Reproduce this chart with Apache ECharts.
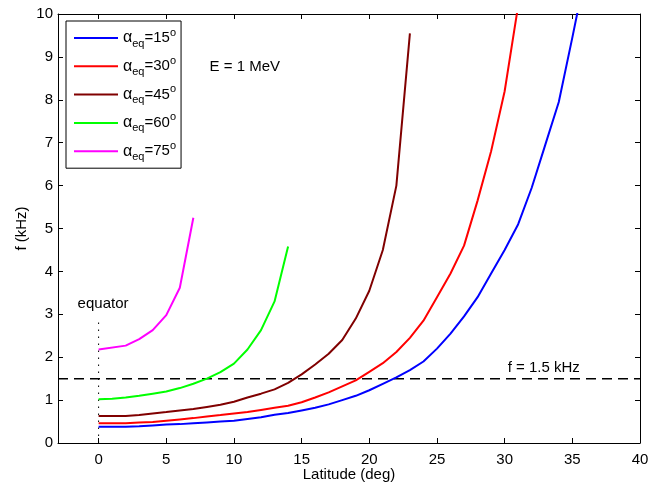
<!DOCTYPE html>
<html><head><meta charset="utf-8">
<script src="https://cdn.jsdelivr.net/npm/echarts@6/dist/echarts.min.js"></script>
<style>html,body{margin:0;padding:0;background:#fff}#c{width:663px;height:485px}</style>
</head><body><div id="c"></div>
<script>
const angles = ['15','30','45','60','75'];
const colors = ['#0000ff','#ff0000','#800000','#00ff00','#ff00ff'];
const lat15 = [0,1,2,3,4,5,6,7,8,9,10,11,12,13,14,15,16,17,18,19,20,21,22,23,24,25,26,27,28,29,30,31,32,33,34,35,36];
const f15 = [0.38,0.38,0.38,0.39,0.41,0.43,0.44,0.46,0.48,0.50,0.52,0.56,0.60,0.66,0.70,0.76,0.82,0.90,1.00,1.10,1.23,1.38,1.53,1.70,1.90,2.20,2.55,2.95,3.40,3.95,4.50,5.10,5.95,6.95,7.95,9.45,11.0];
const lat30 = [0,1,2,3,4,5,6,7,8,9,10,11,12,13,14,15,16,17,18,19,20,21,22,23,24,25,26,27,28,29,30,31];
const f30 = [0.46,0.46,0.46,0.48,0.49,0.52,0.55,0.58,0.62,0.65,0.69,0.72,0.77,0.82,0.87,0.95,1.06,1.18,1.32,1.46,1.66,1.86,2.12,2.45,2.85,3.40,3.95,4.60,5.65,6.80,8.20,10.2];
const lat45 = [0,1,2,3,4,5,6,7,8,9,10,11,12,13,14,15,16,17,18,19,20,21,22,23];
const f45 = [0.63,0.63,0.63,0.65,0.69,0.72,0.76,0.79,0.84,0.89,0.96,1.06,1.15,1.25,1.40,1.60,1.83,2.08,2.40,2.90,3.55,4.50,6.00,9.55];
const lat60 = [0,1,2,3,4,5,6,7,8,9,10,11,12,13,14];
const f60 = [1.02,1.03,1.06,1.10,1.15,1.20,1.28,1.38,1.50,1.65,1.85,2.18,2.63,3.30,4.58];
const lat75 = [0,2,3,4,5,6,7];
const f75 = [2.18,2.27,2.42,2.63,2.98,3.62,5.25];
const xTicks = [0,5,10,15,20,25,30,35,40];
const yTicks = [0,1,2,3,4,5,6,7,8,9,10];
const xRange = [-3,40];
const yRange = [0,10];
const fLine = 1.5;
const equatorTop = 2.9;

const lats = [lat15,lat30,lat45,lat60,lat75];
const fs = [f15,f30,f45,f60,f75];
const font = 'Liberation Sans, Arial, Helvetica, sans-serif';
const FS = 15;

const chart = echarts.init(document.getElementById('c'));
const series = angles.map((a,i)=>({
  name: a, type:'line', xAxisIndex:0, yAxisIndex:0,
  data: lats[i].map((x,j)=>[x, fs[i][j]]),
  symbol:'none', clip:true, smooth:false,
  lineStyle:{color:colors[i], width:2}, itemStyle:{color:colors[i]}, z:3
}));
series.push({
  name:'fline', type:'line', data:[[xRange[0],fLine],[xRange[1],fLine]], symbol:'none',
  lineStyle:{color:'#000', width:1.5, type:[10,6]}, z:2, silent:true
});
series.push({
  name:'equator', type:'line', data:[[0,yRange[0]],[0,equatorTop]], symbol:'none',
  lineStyle:{color:'#000', width:1, type:[1.5,5.5]}, z:2, silent:true
});

const lineCommon = {show:true, onZero:false, lineStyle:{color:'#000', width:1}};
const option = {
  animation:false,
  backgroundColor:'#fff',
  grid:{left:58, right:23, top:14, bottom:42, show:false, containLabel:false, outerBoundsMode:'none'},
  textStyle:{fontFamily:font},
  xAxis:[
    {type:'value', min:xRange[0], max:xRange[1], position:'bottom', axisLine:lineCommon, splitLine:{show:false},
      name:'Latitude (deg)', nameLocation:'middle', nameGap:24, nameMoveOverlap:false,
      nameTextStyle:{fontFamily:font, fontSize:FS, color:'#000'},
      axisTick:{inside:true, length:5, customValues:xTicks, lineStyle:{color:'#000'}},
      axisLabel:{customValues:xTicks, fontFamily:font, fontSize:FS, color:'#000', margin:9}},
    {type:'value', min:xRange[0], max:xRange[1], position:'top', axisLine:lineCommon, splitLine:{show:false},
      axisTick:{inside:true, length:5, customValues:xTicks, lineStyle:{color:'#000'}},
      axisLabel:{show:false, customValues:xTicks}}
  ],
  yAxis:[
    {type:'value', min:yRange[0], max:yRange[1], interval:1, position:'left', axisLine:lineCommon, splitLine:{show:false},
      name:'f (kHz)', nameLocation:'middle', nameGap:29, nameMoveOverlap:false,
      nameTextStyle:{fontFamily:font, fontSize:FS, color:'#000'},
      axisTick:{inside:true, length:5, customValues:yTicks, lineStyle:{color:'#000'}},
      axisLabel:{customValues:yTicks, fontFamily:font, fontSize:FS, color:'#000', margin:5}},
    {type:'value', min:yRange[0], max:yRange[1], interval:1, position:'right', axisLine:lineCommon, splitLine:{show:false},
      axisTick:{inside:true, length:5, customValues:yTicks, lineStyle:{color:'#000'}},
      axisLabel:{show:false, customValues:yTicks}}
  ],
  legend:{
    data:angles, orient:'vertical', left:66, top:21,
    backgroundColor:'#fff', borderColor:'#000', borderWidth:1, borderRadius:0,
    padding:[6,5,6,8], itemGap:6.3, itemWidth:44, itemHeight:2, icon:'rect',
    selectedMode:false,
    formatter: n => '{a|α}{s|eq}{b|=' + n + '}{p|o}',
    textStyle:{fontFamily:font, color:'#000', fontSize:FS,
      rich:{
        a:{fontFamily:font, fontSize:16, lineHeight:22, verticalAlign:'middle', color:'#000'},
        s:{fontFamily:font, fontSize:11, lineHeight:7, verticalAlign:'bottom', color:'#000'},
        b:{fontFamily:font, fontSize:FS, lineHeight:22, verticalAlign:'middle', color:'#000'},
        p:{fontFamily:font, fontSize:11, lineHeight:8, verticalAlign:'top', color:'#000'}
      }}
  },
  series: series
};
chart.setOption(option);

const pE = chart.convertToPixel({xAxisIndex:0, yAxisIndex:0}, [8.2, 8.7]);
const pF = chart.convertToPixel({xAxisIndex:0, yAxisIndex:0}, [30, 1.5]);
const pEq = chart.convertToPixel({xAxisIndex:0, yAxisIndex:0}, [0, equatorTop]);
chart.setOption({graphic:[
  {type:'text', left:pE[0], top:pE[1]-10, style:{text:'E = 1 MeV', font:FS+'px ' + font, fill:'#000'}},
  {type:'text', left:pF[0]+3, top:pF[1]-18, style:{text:'f = 1.5 kHz', font:FS+'px ' + font, fill:'#000'}},
  {type:'text', left:pEq[0]-21, top:pEq[1]-22, style:{text:'equator', font:FS+'px ' + font, fill:'#000'}}
]});
</script></body></html>
